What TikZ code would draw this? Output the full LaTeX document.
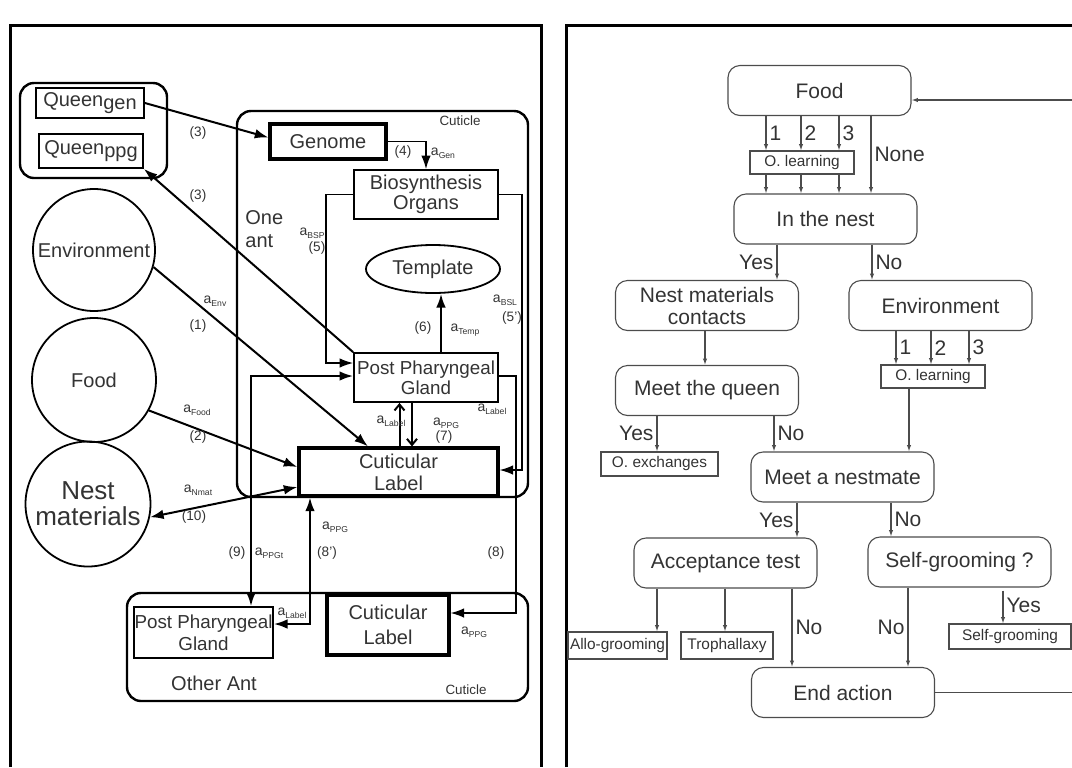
\documentclass[tikz,border=0pt]{standalone}
\usepackage{fontspec}
\setmainfont{Liberation Sans}
\usetikzlibrary{arrows.meta,shapes.geometric,calc}
\tikzset{>={Latex[length=6.8pt,width=4.8pt]}}
\newcommand{\asub}[1]{{\fontsize{7}{8}\selectfont a}\raisebox{-1.5pt}{\fontsize{4.3}{5}\selectfont #1}}

\begin{document}
\begin{tikzpicture}[x=0.5pt,y=-0.5pt,
    txt/.style={text=black!80,font=\fontsize{10}{11}\selectfont,align=center,inner sep=0pt},
    box/.style={txt,draw,line width=0.9pt},
    tbox/.style={box,line width=1.6pt},
    ring/.style={txt,draw,circle,line width=0.9pt},
    grp/.style={draw,rounded corners=7pt,line width=1.2pt,inner sep=0pt},
    num/.style={text=black!80,font=\fontsize{6.8}{7}\selectfont,inner sep=0pt},
    link/.style={->,line width=1pt},
    fine/.style={->,line width=0.7pt},
    barb/.style={-{Straight Barb[length=3pt,width=5pt]},line width=1pt},
    flow/.style={txt,draw=black!70,line width=0.55pt,rounded corners=6pt,font=\fontsize{10.5}{11}\selectfont,minimum width=91.5pt,minimum height=25pt},
    tag/.style={txt,draw=black!70,line width=0.55pt,font=\fontsize{7.7}{8}\selectfont,minimum height=11.5pt},
    go/.style={-{Latex[length=3.2pt,width=2.2pt]},draw=black!70,line width=0.55pt},
    ans/.style={text=black!80,font=\fontsize{10.5}{11}\selectfont,inner sep=1.5pt}]
    \useasboundingbox (0,0) rectangle (1072,767);
    \draw[line width=1.5pt] (10,767) -- (10,25) -- (541,25) -- (541,767);
    \draw[line width=1.5pt] (566,767) -- (566,25) -- (1080,25);

    % one ant and its sources
    \node[grp,minimum width=73.5pt,minimum height=47.5pt] (queens) at (93.5,130.5) {};
    \node[box,minimum width=54pt,minimum height=15pt] (qgen) at (90,103) {Queen\raisebox{-1.7pt}{gen}};
    \node[box,minimum width=52pt,minimum height=17pt] (qppg) at (91,151) {Queen\raisebox{-1.7pt}{ppg}};
    \node[ring,minimum size=61pt] (envc) at (94,250) {Environment};
    \node[ring,minimum size=62pt] (foodc) at (94,380) {Food};
    \node[ring,minimum size=62.5pt,font=\fontsize{13}{13}\selectfont] (nestc) at (88,504) {Nest\\materials};

    \node[grp,minimum width=145.5pt,minimum height=193pt] (oneant) at (382.5,304) {};
    \node[tbox,minimum width=58pt,minimum height=17.5pt] (genome) at (328,141.5) {Genome};
    \node[box,minimum width=72pt,minimum height=24.5pt,font=\fontsize{10}{8.5}\selectfont] (bio) at (426,194.5) {Biosynthesis\\Organs};
    \node[box,ellipse,minimum width=67pt,minimum height=24pt] (tmpl) at (433,269) {Template};
    \node[box,minimum width=72pt,minimum height=24.5pt,font=\fontsize{9.4}{10}\selectfont] (ppg) at (426,377.5) {Post Pharyngeal\\Gland};
    \node[tbox,minimum width=99.5pt,minimum height=24pt] (cl) at (398.5,472) {Cuticular\\Label};
    \node[txt,anchor=west,align=left,font=\fontsize{10}{11.5}\selectfont] (onelab) at (245,229) {One\\ant};
    \node[txt,font=\fontsize{6.7}{7}\selectfont] (cut1) at (460,121) {Cuticle};

    \node[grp,minimum width=200.5pt,minimum height=54pt] (other) at (327.5,647) {};
    \node[box,minimum width=69.5pt,minimum height=25.5pt,font=\fontsize{9.4}{11}\selectfont] (oppg) at (203.5,632.5) {Post Pharyngeal\\Gland};
    \node[tbox,minimum width=61pt,minimum height=30pt,font=\fontsize{10}{12.5}\selectfont] (ocl) at (388,625) {Cuticular\\Label};
    \node[txt] (otherlab) at (214,683) {Other Ant};
    \node[txt,font=\fontsize{6.7}{7}\selectfont] (cut2) at (466,690) {Cuticle};

    \coordinate (t6) at ([xshift=7.5pt]ppg.north);
    \coordinate (t7a) at ([xshift=-7pt]ppg.south);
    \coordinate (t7b) at ([xshift=0.5pt]cl.north);
    \draw[link] (qgen.east) -- ([yshift=2pt]genome.west);
    \draw[link] (ppg.north west) -- (qppg.south east);
    \draw[fine] (genome.east) -| (bio.north);
    \draw[fine] (bio.west) -- ++(-27,0) |- ([yshift=7.25pt]ppg.west);
    \draw[fine] (bio.east) -- ++(23,0) |- ([yshift=1pt]cl.east);
    \draw[link] (t6) -- (t6 |- tmpl.south);
    \draw[barb] (t7a) -- (t7a |- cl.north);
    \draw[barb] (t7b) -- (t7b |- ppg.south);
    \draw[link] (envc.-16) -- ([xshift=-15.25pt]cl.north);
    \draw[link] (foodc.-29) -- ([yshift=2.5pt]cl.west);
    \draw[<->,line width=1pt] (nestc.-12) -- ([yshift=-7.5pt]cl.west);
    \draw[<->,line width=1pt] ([yshift=0.75pt]ppg.west) -| ([xshift=23.75pt]oppg.north);
    \draw[fine] ([yshift=0.75pt]ppg.east) -- ++(17,0) |- ([yshift=6pt]ocl.east);
    \draw[<->,line width=1pt] ([yshift=4.25pt]oppg.east) -| ([xshift=-44.25pt]cl.south);

    \node[num] (n3a) at (198,133) {(3)};
    \node[num] (n3b) at (198,196) {(3)};
    \node[num] (n4) at (403,152) {(4)};
    \node[txt] (agen) at (443,153) {\asub{Gen}};
    \node[txt] (absp) at (312,233) {\asub{BSP}};
    \node[num] (n5) at (317,248) {(5)};
    \node[txt] (absl) at (505,300) {\asub{BSL}};
    \node[num] (n5p) at (512,318) {(5')};
    \node[num] (n6) at (423,328) {(6)};
    \node[txt] (atemp) at (465,330) {\asub{Temp}};
    \node[txt] (alab1) at (391,421) {\asub{Label}};
    \node[txt] (appg1) at (446,423) {\asub{PPG}};
    \node[num] (n7) at (444,437) {(7)};
    \node[txt] (alab2) at (492,409) {\asub{Label}};
    \node[txt] (aenv) at (215,301) {\asub{Env}};
    \node[num] (n1) at (198,326) {(1)};
    \node[txt] (afood) at (197,410) {\asub{Food}};
    \node[num] (n2) at (198,437) {(2)};
    \node[txt] (anmat) at (198,490) {\asub{Nmat}};
    \node[num] (n10) at (194,517) {(10)};
    \node[num] (n9) at (237,553) {(9)};
    \node[txt] (appgt) at (269,553) {\asub{PPGt}};
    \node[num] (n8p) at (327,553) {(8')};
    \node[txt] (appg2) at (335,527) {\asub{PPG}};
    \node[num] (n8) at (496,553) {(8)};
    \node[txt] (alab3) at (292,613) {\asub{Label}};
    \node[txt] (appg3) at (474,632) {\asub{PPG}};

    % decision chart
    \node[flow] (food2) at (819.5,90.5) {Food};
    \node[tag,minimum width=52pt] (learn1) at (802,162.5) {O. learning};
    \node[flow] (nest2) at (825.5,219) {In the nest};
    \node[flow] (nmc) at (707,305.5) {Nest materials\\contacts};
    \node[flow] (env2) at (940.5,305.5) {Environment};
    \node[flow] (queen2) at (707,390.5) {Meet the queen};
    \node[tag,minimum width=52pt] (learn2) at (933,376.5) {O. learning};
    \node[tag,minimum width=58.5pt,minimum height=12pt] (oex) at (659.5,464) {O. exchanges};
    \node[flow] (mate) at (842.5,477) {Meet a nestmate};
    \node[flow] (acc) at (725.5,563) {Acceptance test};
    \node[flow] (sgq) at (959.5,562) {Self-grooming ?};
    \node[tag,minimum width=49.5pt,minimum height=13.5pt] (allo) at (617.5,645.5) {Allo-grooming};
    \node[tag,minimum width=46pt,minimum height=13.5pt] (troph) at (727,645.5) {Trophallaxy};
    \node[tag,minimum width=61pt,minimum height=12.5pt] (sgb) at (1010,636.5) {Self-grooming};
    \node[flow] (endb) at (843,692.5) {End action};

    \foreach \x/\n in {766/1,801/2,839/3}{
        \coordinate (cx) at (\x,0);
        \draw[go] (food2.south -| cx) -- (learn1.north -| cx) node[ans,midway,right]{\n};
        \draw[go] (learn1.south -| cx) -- (nest2.north -| cx);
    }
    \foreach \x/\n in {896/1,931/2,969/3}{
        \coordinate (cx) at (\x,0);
        \draw[go] (env2.south -| cx) -- (learn2.north -| cx) node[ans,midway,right]{\n};
    }
    \foreach \x/\a/\b/\t/\s in {871/food2/nest2/None/right,777/nest2/nmc/Yes/left,872/nest2/env2/No/right,
        705/nmc/queen2//right,909/learn2/mate//right,657/queen2/oex/Yes/left,774/queen2/mate/No/right,
        797/mate/acc/Yes/left,891/mate/sgq/No/right,657/acc/allo//right,725/acc/troph//right,
        792/acc/endb/No/right,908/sgq/endb/No/left}{
        \coordinate (cx) at (\x,0);
        \draw[go] (\a.south -| cx) -- (\b.north -| cx) node[ans,midway,\s]{\t};
    }
    \coordinate (cy) at (1003,0);
    \draw[go,shorten <=1.5pt] (sgq.south -| cy) -- (sgb.north -| cy) node[ans,midway,right]{Yes};
    \coordinate (fb) at ([yshift=-4.75pt]food2.east);
    \draw[go] (endb.east) -- ++(140,0) |- (fb);
\end{tikzpicture}
\end{document}
